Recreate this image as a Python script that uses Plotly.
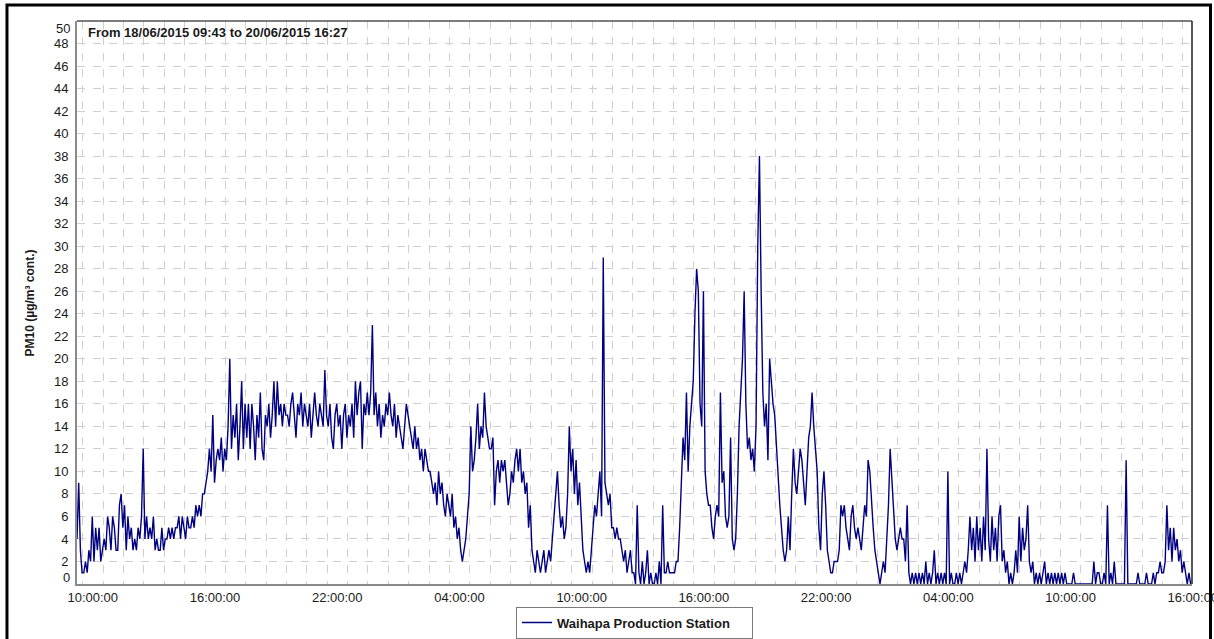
import pandas as pd
import plotly.graph_objects as go

# PM10 readings at 5-minute steps, starting 18/06/2015 09:43 (one row per hour)
pm10_jun18 = [
    4, 9, 3, 1,                                   # 09:43-09:58
    1, 2, 1, 3, 2, 6, 2, 5, 3, 5, 2, 3,           # 10
    4, 3, 6, 5, 3, 6, 5, 3, 3, 7, 8, 5,           # 11
    7, 3, 6, 4, 5, 3, 4, 3, 5, 4, 6, 12,          # 12
    4, 6, 4, 5, 4, 6, 3, 4, 3, 3, 5, 3,           # 13
    4, 4, 5, 4, 5, 4, 5, 5, 6, 4, 6, 5,           # 14
    4, 6, 5, 5, 6, 5, 7, 6, 7, 6, 8, 8,           # 15
    9, 10, 12, 10, 15, 9, 11, 12, 11, 13, 10, 12,  # 16
    11, 14, 20, 12, 15, 13, 16, 11, 14, 18, 12, 16,  # 17
    13, 16, 12, 16, 14, 11, 15, 13, 17, 12, 11, 15,  # 18
    14, 16, 13, 15, 18, 14, 18, 15, 16, 14, 16, 15,  # 19
    15, 14, 16, 17, 15, 13, 16, 15, 17, 14, 16, 15,  # 20
    14, 16, 13, 15, 17, 15, 14, 16, 15, 14, 19, 15,  # 21
    14, 16, 13, 12, 15, 16, 14, 15, 12, 15, 16, 13,  # 22
    15, 14, 16, 13, 18, 15, 17, 18, 12, 16, 15, 17,  # 23
]

pm10_jun19 = [
    15, 17, 23, 15, 17, 14, 16, 13, 15, 14, 16, 15,  # 00
    17, 15, 14, 16, 13, 15, 14, 13, 12, 14, 16, 15,  # 01
    14, 13, 12, 14, 12, 13, 11, 12, 10, 12, 11, 10,  # 02
    10, 9, 8, 9, 7, 10, 8, 9, 7, 6, 8, 7,          # 03
    6, 8, 5, 6, 4, 5, 3, 2, 3, 4, 6, 8,            # 04
    14, 10, 11, 13, 16, 12, 14, 13, 17, 14, 13, 12,  # 05
    12, 13, 7, 10, 11, 9, 11, 10, 11, 9, 7, 8,     # 06
    10, 9, 11, 12, 10, 12, 9, 10, 8, 9, 5, 7,      # 07
    3, 2, 1, 3, 2, 1, 2, 3, 1, 2, 3, 2,            # 08
    4, 6, 8, 10, 7, 5, 6, 4, 5, 8, 14, 10,         # 09
    12, 8, 11, 7, 9, 6, 3, 2, 1, 2, 1, 3,          # 10
    5, 7, 6, 8, 10, 6, 29, 9, 8, 7, 8, 5,          # 11
    5, 4, 5, 4, 4, 3, 2, 3, 1, 2, 3, 1,            # 12
    1, 0, 7, 1, 0, 2, 0, 1, 3, 0, 1, 0,            # 13
    0, 1, 0, 2, 0, 7, 1, 1, 2, 1, 1, 1,            # 14
    1, 2, 2, 5, 10, 13, 11, 17, 10, 14, 16, 18,    # 15
    24, 28, 26, 16, 14, 26, 10, 8, 7, 7, 5, 4,     # 16
    6, 7, 6, 17, 9, 10, 6, 5, 6, 13, 4, 3,         # 17
    4, 8, 14, 17, 20, 26, 16, 12, 13, 11, 12, 10,  # 18
    14, 30, 38, 26, 17, 14, 16, 11, 20, 18, 16, 15,  # 19
    12, 10, 7, 5, 3, 2, 3, 6, 3, 8, 12, 9,         # 20
    8, 10, 12, 11, 9, 7, 10, 13, 14, 17, 14, 12,   # 21
    10, 5, 3, 8, 10, 7, 3, 2, 1, 1, 2, 2,          # 22
    2, 3, 7, 6, 7, 5, 4, 3, 6, 7, 5, 4,            # 23
]

pm10_jun20 = [
    5, 4, 3, 5, 7, 6, 11, 10, 7, 5, 3, 2,          # 00
    1, 0, 1, 2, 1, 4, 7, 12, 9, 6, 4, 3,           # 01
    4, 5, 4, 4, 2, 7, 1, 0, 1, 0, 1, 0,            # 02
    1, 0, 1, 0, 2, 0, 1, 0, 1, 3, 0, 1,            # 03
    0, 1, 0, 1, 0, 10, 0, 1, 0, 0, 1, 0,           # 04
    1, 0, 1, 2, 1, 3, 6, 3, 5, 2, 6, 3,            # 05
    5, 2, 6, 3, 12, 4, 2, 6, 3, 5, 2, 6,           # 06
    7, 2, 3, 1, 2, 0, 1, 0, 1, 3, 1, 6,            # 07
    2, 5, 3, 4, 7, 2, 1, 2, 0, 1, 0, 1,            # 08
    0, 1, 2, 0, 1, 0, 1, 0, 1, 0, 1, 0,            # 09
    1, 0, 1, 0, 0, 0, 0, 1, 0, 0, 0, 0,            # 10
    0, 0, 0, 0, 0, 0, 0, 2, 0, 1, 1, 0,            # 11
    0, 1, 0, 7, 0, 1, 0, 2, 0, 0, 0, 0,            # 12
    0, 0, 11, 0, 0, 0, 0, 0, 0, 1, 0, 0,           # 13
    0, 0, 1, 0, 0, 0, 1, 0, 1, 1, 2, 1,            # 14
    1, 2, 7, 3, 5, 2, 5, 3, 4, 2, 3, 1,            # 15
    2, 1, 0, 1, 0,                                 # 16:03-16:23
]

y_ticks = [0, 2, 4, 6, 8, 10, 12, 14, 16, 18, 20, 22, 24, 26,
           28, 30, 32, 34, 36, 38, 40, 42, 44, 46, 48, 50]

period_start = "2015-06-18 09:43"
period_end = "2015-06-20 16:27"
station = "Waihapa Production Station"
heading = "From 18/06/2015 09:43 to 20/06/2015 16:27"
y_title = "PM10 (µg/m³ cont.)"

pm10 = pm10_jun18 + pm10_jun19 + pm10_jun20
times = pd.date_range(period_start, periods=len(pm10), freq="5min")

FONT = "Liberation Sans, Arial, sans-serif"
GRID = "#cfcfcf"
AXIS = "#8a8a8a"
TEXT = "#1a1a1a"

fig = go.Figure()
fig.add_trace(go.Scatter(
    x=times, y=pm10, mode="lines", name=station,
    line=dict(color="#000080", width=1.4),
))

fig.update_layout(
    width=1214, height=639,
    margin=dict(l=77, r=22, t=21, b=55, autoexpand=False),
    paper_bgcolor="white", plot_bgcolor="white",
    font=dict(family=FONT, size=13, color=TEXT),
    showlegend=True,
    legend=dict(
        orientation="h", x=0.5, xanchor="center", y=-0.04, yanchor="top",
        bordercolor="#7a7a7a", borderwidth=1, bgcolor="white",
        entrywidth=190, entrywidthmode="pixels",
        font=dict(family=FONT, size=13, color=TEXT, weight="bold"),
    ),
    xaxis=dict(
        type="date", range=[period_start, period_end],
        tick0="2015-06-18 10:00", dtick=6 * 3600 * 1000,
        tickformat="%H:%M:%S", ticks="", ticklabelshift=10,
        ticklabeloverflow="allow",
        showgrid=True, gridcolor=GRID, griddash="8px,8px", gridwidth=1,
        minor=dict(tick0="2015-06-18 10:00", dtick=3600 * 1000,
                   showgrid=True, gridcolor=GRID, griddash="8px,8px",
                   gridwidth=1),
        showline=True, linecolor=AXIS, linewidth=2, zeroline=False,
        tickfont=dict(family=FONT, size=13, color=TEXT),
    ),
    yaxis=dict(
        range=[y_ticks[0], y_ticks[-1]], tickvals=y_ticks[1:-1], ticks="",
        showgrid=True, gridcolor=GRID, griddash="8px,8px", gridwidth=1,
        showline=True, linecolor=AXIS, linewidth=2, zeroline=False,
        ticklabelstandoff=4,
        tickfont=dict(family=FONT, size=13, color=TEXT),
    ),
)

# end labels of the value axis sit just inside the plot edges
for val, shift in ((y_ticks[0], 7), (y_ticks[-1], -7)):
    fig.add_annotation(
        x=0, xref="paper", y=val, yref="y", xanchor="right", yanchor="middle",
        xshift=-6, yshift=shift, text=str(val), showarrow=False, borderpad=0,
        font=dict(family=FONT, size=13, color=TEXT),
    )

fig.add_annotation(
    x=-0.0422, xref="paper", y=0.5, yref="paper", textangle=-90,
    xanchor="center", yanchor="middle", text=y_title, showarrow=False,
    font=dict(family=FONT, size=12, color=TEXT, weight="bold"),
)

fig.add_annotation(
    x=0.008, xref="paper", y=0.979, yref="paper", xanchor="left",
    yanchor="middle", text=heading, showarrow=False,
    font=dict(family=FONT, size=13, color=TEXT, weight="bold"),
)

# dark top and right edges of the plotting area
fig.add_shape(type="line", xref="paper", yref="paper", x0=0, x1=1, y0=1, y1=1,
              line=dict(color="#505050", width=1.5))
fig.add_shape(type="line", xref="paper", yref="paper", x0=1, x1=1, y0=0, y1=1,
              line=dict(color="#202020", width=1.5))

# black frame around the whole chart
fig.add_shape(type="rect", xref="paper", yref="paper",
              x0=-0.0628, x1=1.0166, y0=-0.14, y1=1.0284,
              line=dict(color="black", width=3), fillcolor="rgba(0,0,0,0)",
              layer="above")

fig.write_html("out.html")
